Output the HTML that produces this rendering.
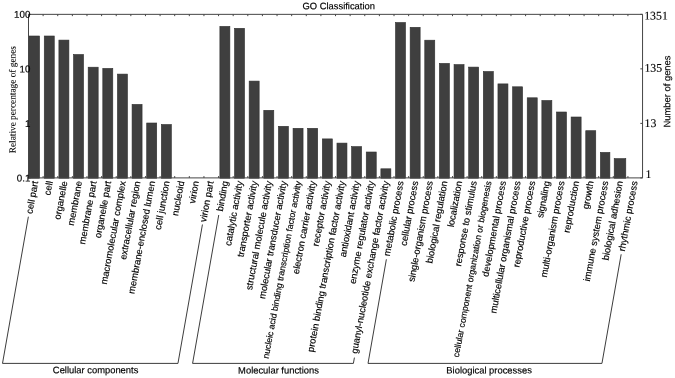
<!DOCTYPE html>
<html><head><meta charset="utf-8"><title>GO Classification</title>
<style>
html,body{margin:0;padding:0;background:#fff;}
body{width:675px;height:378px;overflow:hidden;}
svg{display:block;filter:grayscale(1);}
.s{font-family:"Liberation Sans",sans-serif;}
.t{font-family:"Liberation Serif",serif;}
</style></head><body>
<svg width="675" height="378" viewBox="0 0 675 378">
<rect width="675" height="378" fill="#fff"/>
<g fill="#3f3f3f" stroke="#2f2f2f" stroke-width="0.6">
<rect x="28.30" y="36.00" width="11.25" height="142.20"/>
<rect x="44.26" y="36.00" width="10.00" height="142.20"/>
<rect x="58.90" y="40.10" width="10.00" height="138.10"/>
<rect x="73.53" y="54.50" width="10.00" height="123.70"/>
<rect x="88.17" y="67.20" width="10.00" height="111.00"/>
<rect x="102.80" y="68.40" width="10.00" height="109.80"/>
<rect x="117.44" y="74.10" width="10.00" height="104.10"/>
<rect x="132.07" y="104.40" width="10.00" height="73.80"/>
<rect x="146.71" y="123.00" width="10.00" height="55.20"/>
<rect x="161.35" y="124.50" width="10.00" height="53.70"/>
<rect x="219.88" y="26.40" width="10.00" height="151.80"/>
<rect x="234.52" y="28.30" width="10.00" height="149.90"/>
<rect x="249.16" y="81.10" width="10.00" height="97.10"/>
<rect x="263.79" y="110.30" width="10.00" height="67.90"/>
<rect x="278.43" y="126.30" width="10.00" height="51.90"/>
<rect x="293.06" y="128.30" width="10.00" height="49.90"/>
<rect x="307.69" y="128.30" width="10.00" height="49.90"/>
<rect x="322.33" y="138.90" width="10.00" height="39.30"/>
<rect x="336.96" y="143.10" width="10.00" height="35.10"/>
<rect x="351.60" y="146.60" width="10.00" height="31.60"/>
<rect x="366.24" y="152.00" width="10.00" height="26.20"/>
<rect x="380.87" y="168.80" width="10.00" height="9.40"/>
<rect x="395.50" y="22.50" width="10.00" height="155.70"/>
<rect x="410.14" y="27.30" width="10.00" height="150.90"/>
<rect x="424.77" y="40.20" width="10.00" height="138.00"/>
<rect x="439.41" y="63.40" width="10.00" height="114.80"/>
<rect x="454.05" y="64.60" width="10.00" height="113.60"/>
<rect x="468.68" y="67.10" width="10.00" height="111.10"/>
<rect x="483.31" y="71.50" width="10.00" height="106.70"/>
<rect x="497.95" y="83.90" width="10.00" height="94.30"/>
<rect x="512.58" y="86.80" width="10.00" height="91.40"/>
<rect x="527.22" y="97.80" width="10.00" height="80.40"/>
<rect x="541.86" y="100.50" width="10.00" height="77.70"/>
<rect x="556.49" y="112.00" width="10.00" height="66.20"/>
<rect x="571.12" y="117.00" width="10.00" height="61.20"/>
<rect x="585.76" y="130.70" width="10.00" height="47.50"/>
<rect x="600.39" y="152.40" width="9.50" height="25.80"/>
<rect x="614.20" y="158.60" width="11.60" height="19.60"/>
</g>
<g stroke="#454545" stroke-width="1" fill="none">
<path d="M28.50 14.35 H642.55 V177.90 H28.50 Z"/>
<path d="M43.12 14.35 v1.8 M43.12 177.90 v-1.8 M57.74 14.35 v1.8 M57.74 177.90 v-1.8 M72.36 14.35 v1.8 M72.36 177.90 v-1.8 M86.98 14.35 v1.8 M86.98 177.90 v-1.8 M101.60 14.35 v1.8 M101.60 177.90 v-1.8 M116.22 14.35 v1.8 M116.22 177.90 v-1.8 M130.84 14.35 v1.8 M130.84 177.90 v-1.8 M145.46 14.35 v1.8 M145.46 177.90 v-1.8 M160.08 14.35 v1.8 M160.08 177.90 v-1.8 M174.70 14.35 v1.8 M174.70 177.90 v-1.8 M189.32 14.35 v1.8 M189.32 177.90 v-1.8 M203.94 14.35 v1.8 M203.94 177.90 v-1.8 M218.56 14.35 v1.8 M218.56 177.90 v-1.8 M233.18 14.35 v1.8 M233.18 177.90 v-1.8 M247.80 14.35 v1.8 M247.80 177.90 v-1.8 M262.42 14.35 v1.8 M262.42 177.90 v-1.8 M277.04 14.35 v1.8 M277.04 177.90 v-1.8 M291.66 14.35 v1.8 M291.66 177.90 v-1.8 M306.28 14.35 v1.8 M306.28 177.90 v-1.8 M320.90 14.35 v1.8 M320.90 177.90 v-1.8 M335.52 14.35 v1.8 M335.52 177.90 v-1.8 M350.15 14.35 v1.8 M350.15 177.90 v-1.8 M364.77 14.35 v1.8 M364.77 177.90 v-1.8 M379.39 14.35 v1.8 M379.39 177.90 v-1.8 M394.01 14.35 v1.8 M394.01 177.90 v-1.8 M408.63 14.35 v1.8 M408.63 177.90 v-1.8 M423.25 14.35 v1.8 M423.25 177.90 v-1.8 M437.87 14.35 v1.8 M437.87 177.90 v-1.8 M452.49 14.35 v1.8 M452.49 177.90 v-1.8 M467.11 14.35 v1.8 M467.11 177.90 v-1.8 M481.73 14.35 v1.8 M481.73 177.90 v-1.8 M496.35 14.35 v1.8 M496.35 177.90 v-1.8 M510.97 14.35 v1.8 M510.97 177.90 v-1.8 M525.59 14.35 v1.8 M525.59 177.90 v-1.8 M540.21 14.35 v1.8 M540.21 177.90 v-1.8 M554.83 14.35 v1.8 M554.83 177.90 v-1.8 M569.45 14.35 v1.8 M569.45 177.90 v-1.8 M584.07 14.35 v1.8 M584.07 177.90 v-1.8 M598.69 14.35 v1.8 M598.69 177.90 v-1.8 M613.31 14.35 v1.8 M613.31 177.90 v-1.8 M627.93 14.35 v1.8 M627.93 177.90 v-1.8 M28.50 14.35 h2.2 M642.55 14.35 h-2.2 M28.50 68.87 h2.2 M642.55 68.87 h-2.2 M28.50 123.38 h2.2 M642.55 123.38 h-2.2 M28.50 177.90 h2.2 M642.55 177.90 h-2.2"/>
</g>
<g fill="#000" stroke="#000" stroke-width="0.16">
<text class="s" transform="translate(338.70,9.20) rotate(-0.04)" font-size="9.40" text-anchor="middle">GO Classification</text>
<text class="s" transform="translate(30.40,17.85) rotate(-0.04)" font-size="9.80" text-anchor="end">100</text>
<text class="s" transform="translate(30.40,72.37) rotate(-0.04)" font-size="9.80" text-anchor="end">10</text>
<text class="s" transform="translate(30.40,126.88) rotate(-0.04)" font-size="9.80" text-anchor="end">1</text>
<text class="s" transform="translate(30.40,181.40) rotate(-0.04)" font-size="9.80" text-anchor="end">0.1</text>
<text class="t" transform="translate(644.20,19.60) rotate(-0.04)" font-size="11.80" stroke-width="0.12">1351</text>
<text class="t" transform="translate(644.40,71.80) rotate(-0.04)" font-size="11.80" stroke-width="0.12">135</text>
<text class="t" transform="translate(644.60,127.00) rotate(-0.04)" font-size="11.80" stroke-width="0.12">13</text>
<text class="t" transform="translate(645.60,178.00) rotate(-0.04)" font-size="11.80" stroke-width="0.12">1</text>
<text class="t" transform="translate(15.50,99.65) rotate(-89.96)" font-size="9.30" text-anchor="middle" stroke-width="0.12">Relative percentage of genes</text>
<text class="s" transform="translate(670.30,91.50) rotate(-89.96)" font-size="9.40" text-anchor="middle">Number of genes</text>
<text class="s" transform="translate(38.20,181.70) rotate(-79.50)" font-size="9.45" text-anchor="end">cell part</text>
<text class="s" transform="translate(52.82,181.70) rotate(-79.50)" font-size="9.45" text-anchor="end">cell</text>
<text class="s" transform="translate(67.44,181.70) rotate(-79.50)" font-size="9.45" text-anchor="end">organelle</text>
<text class="s" transform="translate(82.06,181.70) rotate(-79.50)" font-size="9.45" text-anchor="end">membrane</text>
<text class="s" transform="translate(96.68,181.70) rotate(-79.50)" font-size="9.45" text-anchor="end">membrane part</text>
<text class="s" transform="translate(111.30,181.70) rotate(-79.50)" font-size="9.45" text-anchor="end">organelle part</text>
<text class="s" transform="translate(125.92,181.70) rotate(-79.50)" font-size="9.45" text-anchor="end">macromolecular complex</text>
<text class="s" transform="translate(140.54,181.70) rotate(-79.50)" font-size="9.45" text-anchor="end">extracellular region</text>
<text class="s" transform="translate(155.16,181.70) rotate(-79.50)" font-size="9.45" text-anchor="end">membrane-enclosed lumen</text>
<text class="s" transform="translate(169.78,181.70) rotate(-79.50)" font-size="9.45" text-anchor="end">cell junction</text>
<text class="s" transform="translate(184.40,181.70) rotate(-79.50)" font-size="9.45" text-anchor="end">nucleoid</text>
<text class="s" transform="translate(199.02,181.70) rotate(-79.50)" font-size="9.45" text-anchor="end">virion</text>
<text class="s" transform="translate(213.64,181.70) rotate(-79.50)" font-size="9.45" text-anchor="end">virion part</text>
<text class="s" transform="translate(228.26,181.70) rotate(-79.50)" font-size="9.45" text-anchor="end">binding</text>
<text class="s" transform="translate(242.88,181.70) rotate(-79.50)" font-size="9.45" text-anchor="end">catalytic activity</text>
<text class="s" transform="translate(257.50,181.70) rotate(-79.50)" font-size="9.45" text-anchor="end">transporter activity</text>
<text class="s" transform="translate(272.12,181.70) rotate(-79.50)" font-size="9.45" text-anchor="end">structural molecule activity</text>
<text class="s" transform="translate(286.74,181.70) rotate(-79.50)" font-size="9.45" text-anchor="end">molecular transducer activity</text>
<text class="s" transform="translate(301.36,181.70) rotate(-79.50)" font-size="8.77" text-anchor="end">nucleic acid binding transcription factor activity</text>
<text class="s" transform="translate(315.98,181.70) rotate(-79.50)" font-size="9.45" text-anchor="end">electron carrier activity</text>
<text class="s" transform="translate(330.60,181.70) rotate(-79.50)" font-size="9.45" text-anchor="end">receptor activity</text>
<text class="s" transform="translate(345.22,181.70) rotate(-79.50)" font-size="9.45" text-anchor="end">protein binding transcription factor activity</text>
<text class="s" transform="translate(359.85,181.70) rotate(-79.50)" font-size="9.45" text-anchor="end">antioxidant activity</text>
<text class="s" transform="translate(374.47,181.70) rotate(-79.50)" font-size="9.45" text-anchor="end">enzyme regulator activity</text>
<text class="s" transform="translate(389.09,181.70) rotate(-79.50)" font-size="9.45" text-anchor="end">guanyl-nucleotide exchange factor activity</text>
<text class="s" transform="translate(403.71,181.70) rotate(-79.50)" font-size="9.45" text-anchor="end">metabolic process</text>
<text class="s" transform="translate(418.33,181.70) rotate(-79.50)" font-size="9.45" text-anchor="end">cellular process</text>
<text class="s" transform="translate(432.95,181.70) rotate(-79.50)" font-size="9.45" text-anchor="end">single-organism process</text>
<text class="s" transform="translate(447.57,181.70) rotate(-79.50)" font-size="9.45" text-anchor="end">biological regulation</text>
<text class="s" transform="translate(462.19,181.70) rotate(-79.50)" font-size="9.45" text-anchor="end">localization</text>
<text class="s" transform="translate(476.81,181.70) rotate(-79.50)" font-size="9.45" text-anchor="end">response to stimulus</text>
<text class="s" transform="translate(491.43,181.70) rotate(-79.50)" font-size="8.80" text-anchor="end">cellular component organization or biogenesis</text>
<text class="s" transform="translate(506.05,181.70) rotate(-79.50)" font-size="9.45" text-anchor="end">developmental process</text>
<text class="s" transform="translate(520.67,181.70) rotate(-79.50)" font-size="9.45" text-anchor="end">multicellular organismal process</text>
<text class="s" transform="translate(535.29,181.70) rotate(-79.50)" font-size="9.45" text-anchor="end">reproductive process</text>
<text class="s" transform="translate(549.91,181.70) rotate(-79.50)" font-size="9.45" text-anchor="end">signaling</text>
<text class="s" transform="translate(564.53,181.70) rotate(-79.50)" font-size="9.45" text-anchor="end">multi-organism process</text>
<text class="s" transform="translate(579.15,181.70) rotate(-79.50)" font-size="9.45" text-anchor="end">reproduction</text>
<text class="s" transform="translate(593.77,181.70) rotate(-79.50)" font-size="9.45" text-anchor="end">growth</text>
<text class="s" transform="translate(608.39,181.70) rotate(-79.50)" font-size="9.45" text-anchor="end">immune system process</text>
<text class="s" transform="translate(623.01,181.70) rotate(-79.50)" font-size="9.45" text-anchor="end">biological adhesion</text>
<text class="s" transform="translate(637.63,181.70) rotate(-79.50)" font-size="9.45" text-anchor="end">rhythmic process</text>
<text class="s" transform="translate(95.60,373.20) rotate(-0.04)" font-size="9.40" text-anchor="middle">Cellular components</text>
<text class="s" transform="translate(278.50,373.60) rotate(-0.04)" font-size="9.40" text-anchor="middle">Molecular functions</text>
<text class="s" transform="translate(489.10,373.40) rotate(-0.04)" font-size="9.40" text-anchor="middle">Biological processes</text>
</g>
<g stroke="#262626" stroke-width="0.9" fill="none">
<path d="M28.38 216.70 L2.51 363.40 L177.96 363.40 L202.45 224.50"/>
<path d="M218.74 215.00 L192.58 363.40 L353.40 363.40 L354.42 357.60"/>
<path d="M386.38 259.30 L368.02 363.40 L601.94 363.40 L621.18 254.30"/>
</g>
</svg>
</body></html>
